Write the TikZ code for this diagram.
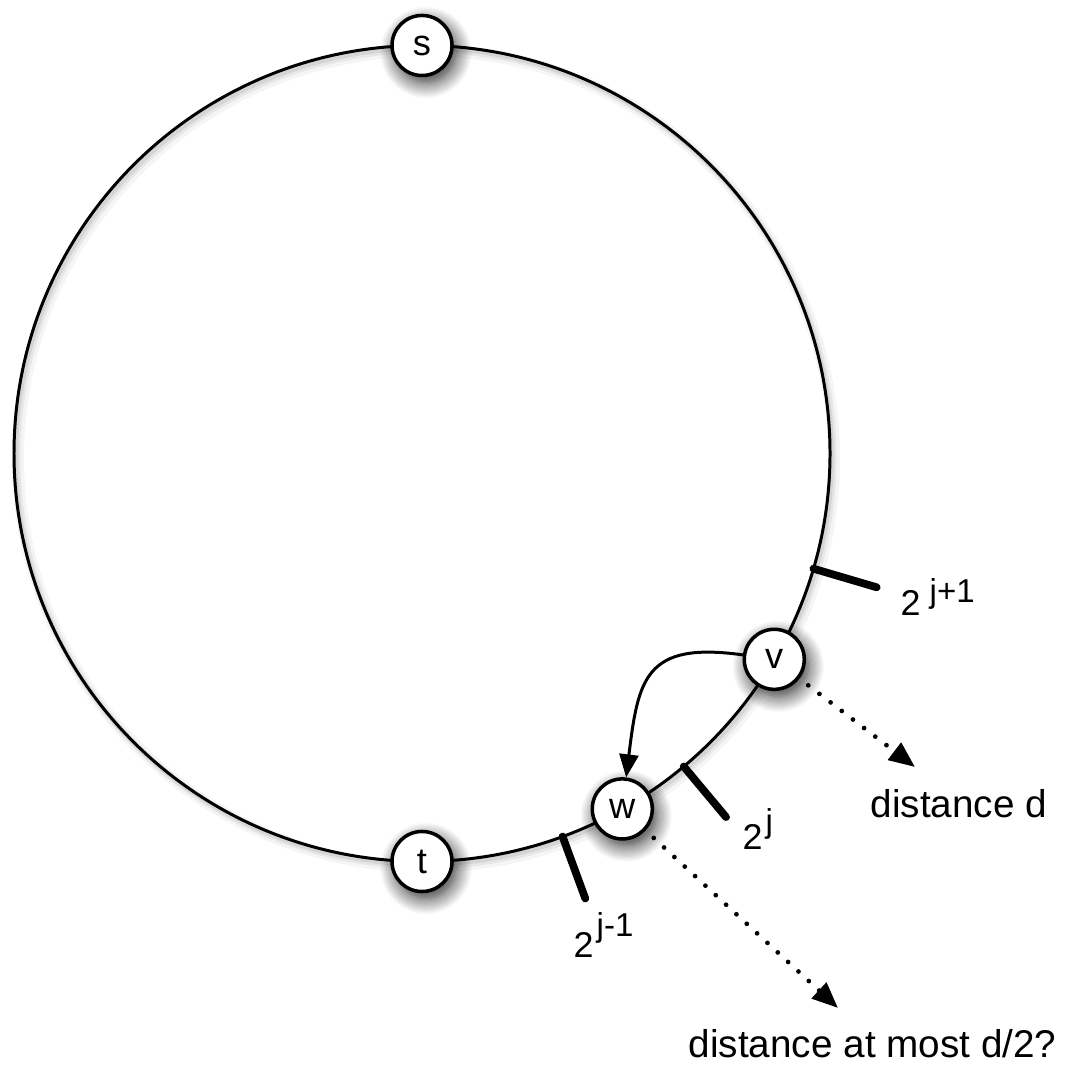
\documentclass[tikz,border=0pt]{standalone}
\usepackage{fontspec}
\setmainfont{Liberation Sans}
\usetikzlibrary{arrows.meta,shadows.blur,calc}
\begin{document}
\begin{tikzpicture}[x=0.01cm,y=0.01cm,
  vertex/.style={circle,draw=black,line width=1pt,fill=white,minimum size=0.6cm,inner sep=0pt,
    font=\fontsize{10.3}{12}\selectfont,
    blur shadow={shadow xshift=0.04cm,shadow yshift=-0.07cm,shadow blur radius=0.16cm,shadow opacity=85,shadow blur steps=14}},
  ringline/.style={line width=0.85pt},
  ringshadow/.style={draw=black},
  tickmark/.style={line width=2.2pt,line cap=round},
  lbl/.style={anchor=base west,inner sep=0pt,font=\fontsize{10.2}{12}\selectfont},
  dist/.style={anchor=base west,inner sep=0pt,font=\fontsize{11}{13}\selectfont},
  dotarrow/.style={line width=1.35pt,line cap=round,dash pattern=on 0pt off 4pt,
    -{Triangle[length=0.26cm,width=0.21cm]},shorten <=0.11cm},
  curvearrow/.style={line width=0.85pt,-{Triangle[length=0.23cm,width=0.19cm]}},
]
\useasboundingbox (0,0) rectangle (1064,1065);
\coordinate (C) at (422,611.5);

% soft shadow of the ring
\draw[ringshadow,line width=0.12cm,opacity=0.04] ($(C)+(4,-5)$) circle[radius=408];
\draw[ringshadow,line width=0.07cm,opacity=0.06] ($(C)+(3,-4)$) circle[radius=408];
\draw[ringshadow,line width=0.04cm,opacity=0.08] ($(C)+(2,-3)$) circle[radius=408];

% ring
\draw[ringline] (C) circle[radius=408];

% tick marks
\coordinate (k1a) at ($(C)+(-16.4:408)$);
\coordinate (k1b) at ($(C)+(-16.4:474)$);
\coordinate (k2a) at ($(C)+(-50.1:408)$);
\coordinate (k2b) at ($(C)+(-50.1:474)$);
\coordinate (k3a) at ($(C)+(-69.85:408)$);
\coordinate (k3b) at ($(C)+(-69.85:474)$);
\draw[tickmark] (k1a) -- (k1b);
\draw[tickmark] (k2a) -- (k2b);
\draw[tickmark] (k3a) -- (k3b);

% vertices
\node[vertex] (s) at ($(C)+(90:408)$) {s};
\node[vertex] (t) at ($(C)+(270:408)$) {t};
\node[vertex] (v) at ($(C)+(-30.3:408)$) {v};
\node[vertex] (w) at ($(C)+(-60.6:408)$) {w};

% tick labels
\node[lbl] (l1) at (900,449) {2\hspace{0.09cm}\raisebox{0.13cm}{\fontsize{9.4}{10}\selectfont j+1}};
\node[lbl] (l2) at (742,215) {2\hspace{0.03cm}\raisebox{0.17cm}{\fontsize{9.4}{10}\selectfont j}};
\node[lbl] (l3) at (573,107) {2\hspace{0.03cm}\raisebox{0.21cm}{\fontsize{9.4}{10}\selectfont j-1}};

% distance labels
\node[dist] (dd) at (870,247) {distance d};
\node[dist] (dh) at (688,8) {distance at most d/2?};

% arrows
\draw[curvearrow] (v) to[out=172,in=83,looseness=1.5] (w);
\coordinate (vd) at (915,298);
\coordinate (wd) at (838,57);
\draw[dotarrow] (v) -- (vd);
\draw[dotarrow] (w) -- (wd);
\end{tikzpicture}
\end{document}
